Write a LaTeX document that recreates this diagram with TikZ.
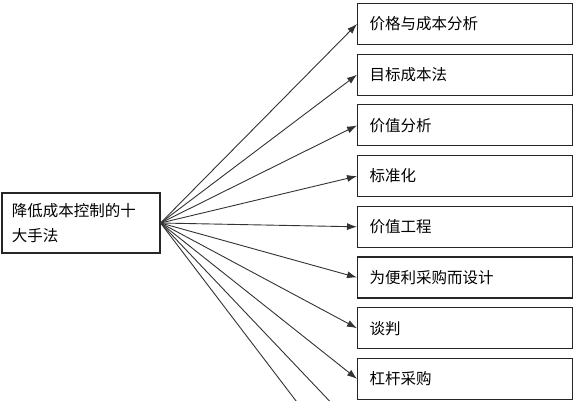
\documentclass[tikz,border=0pt]{standalone}
\usepackage{fontspec}
\newfontfamily\cjk{Noto Sans CJK SC}
\usetikzlibrary{positioning}
\usetikzlibrary{arrows.meta}

\begin{document}
\begin{tikzpicture} [x=1pt, y=-1pt]
    % styles for the boxes and the fan of arrows
    \tikzstyle{box} = [draw=black!85, line width=1.1pt, rectangle, align=left,
        font=\cjk\fontsize{15.5}{25}\selectfont]
    \tikzstyle{item} = [box, minimum width=215pt, minimum height=41pt,
        inner xsep=12pt, text width=191pt]
    \tikzstyle{link} = [draw=black!80, line width=0.9pt,
        -{Latex[length=10pt, width=7pt]}]

    \useasboundingbox (0,0) rectangle (573,400);
    \clip (0,0) rectangle (573,400);

    % the root box on the left
    \node (root) [
        box, minimum width=158pt, minimum height=60pt,
        inner xsep=10pt, text width=138pt
    ] at (81, 223) {降低成本控制的十\\大手法};

    % one box per method, stacked down the right side
    \foreach \label [count=\i from 0] in {价格与成本分析, 目标成本法, 价值分析,
        标准化, 价值工程, 为便利采购而设计, 谈判, 杠杆采购} {
        \node (item\i) [item, anchor=west] at (357, {24 + \i*50.7}) {\label};
        \draw [link] (root.east) -- (item\i.west);
    }

    % the last two arrows run off the bottom edge
    \coordinate (item8) at (357, 430);
    \coordinate (item9) at (357, 481);
    \draw [link] (root.east) -- (item8);
    \draw [link] (root.east) -- (item9);
\end{tikzpicture}
\end{document}
